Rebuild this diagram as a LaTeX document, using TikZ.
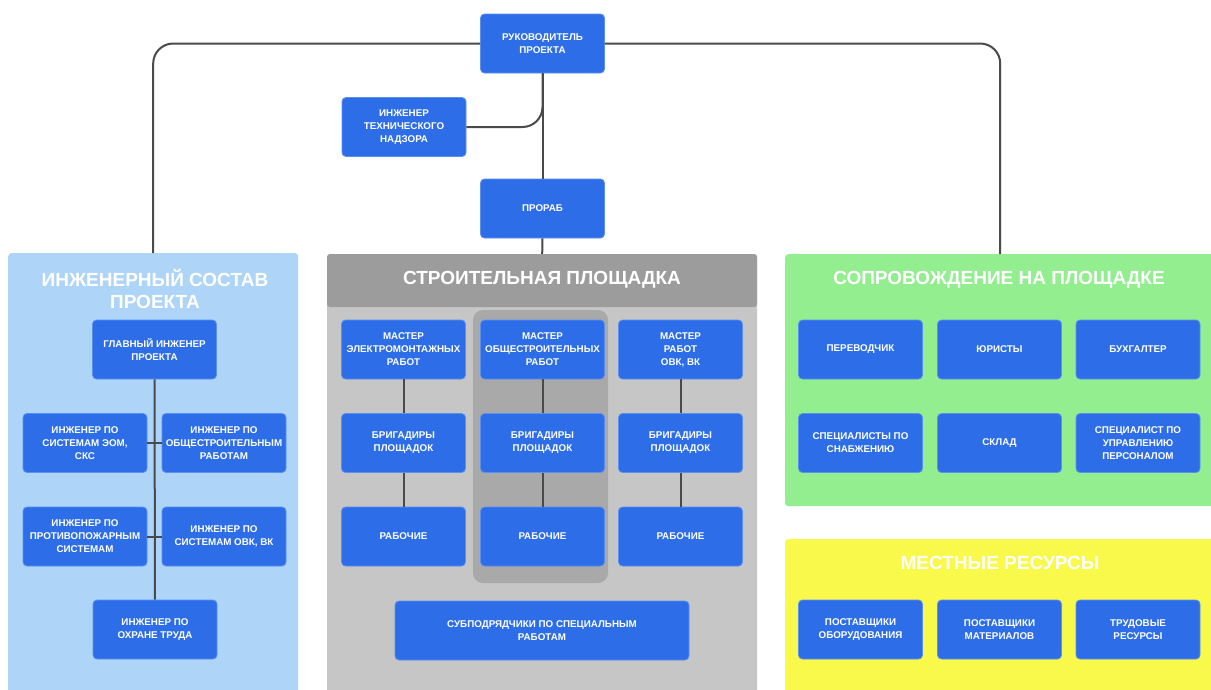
\documentclass[tikz,border=0pt]{standalone}
\usepackage{fontspec}
\setmainfont{Liberation Sans}
\usepackage{tikz}
\usepackage{xcolor}
\definecolor{boxblue}{HTML}{2D6EE8}
\definecolor{boxedge}{HTML}{5B8FF0}
\definecolor{panelblue}{HTML}{AED5F8}
\definecolor{panelgray}{HTML}{C6C6C6}
\definecolor{headgray}{HTML}{9C9C9C}
\definecolor{colgray}{HTML}{A9A9A9}
\definecolor{panelgreen}{HTML}{93EE8F}
\definecolor{panelyellow}{HTML}{F9F94C}
\definecolor{linegray}{HTML}{4A4A4A}
\tikzset{
    org-box/.style = {draw=boxedge, fill=boxblue, line width=0.8pt, rectangle, rounded corners=4pt, minimum width=124pt, minimum height=59pt, inner sep=1pt, align=center, text=white, font=\fontsize{9.8}{13}\selectfont\bfseries},
    wide-box/.style = {org-box, minimum width=294pt},
    panel/.style = {rectangle, rounded corners=3pt, anchor=north west, inner sep=0pt},
    panel-title/.style = {text=white, align=center, font=\fontsize{19}{21.5}\selectfont\bfseries},
    link/.style = {draw=linegray, line width=2pt},
}

\begin{document}
\begin{tikzpicture}[x=1pt,y=-1pt]
\useasboundingbox (0,0) rectangle (1211,689);
% panels
\node[panel, fill=panelblue, minimum width=290pt, minimum height=440pt] (eng-panel) at (8,253) {};
\node[panel, fill=panelgray, minimum width=430pt, minimum height=440pt] (site-panel) at (327,254) {};
\fill[headgray, rounded corners=3pt] (327,254) rectangle (757,307);
\fill[colgray, rounded corners=10pt] (473,310) rectangle (608,583);
\node[panel, fill=panelgreen, minimum width=430pt, minimum height=252pt] (help-panel) at (785,254) {};
\node[panel, fill=panelyellow, minimum width=430pt, minimum height=160pt] (local-panel) at (785,539) {};

\node[panel-title] (eng-title) at (155,289) {ИНЖЕНЕРНЫЙ СОСТАВ\\ПРОЕКТА};
\node[panel-title] (site-title) at (542,280) {СТРОИТЕЛЬНАЯ ПЛОЩАДКА};
\node[panel-title] (help-title) at (999,280) {СОПРОВОЖДЕНИЕ НА ПЛОЩАДКЕ};
\node[panel-title] (local-title) at (1000,563) {МЕСТНЫЕ РЕСУРСЫ};

% top of the tree
\node[org-box] (head) at (542.5,43.5) {РУКОВОДИТЕЛЬ\\ПРОЕКТА};
\node[org-box] (tech) at (404,127) {ИНЖЕНЕР\\ТЕХНИЧЕСКОГО\\НАДЗОРА};
\node[org-box] (foreman) at (542.5,208.5) {ПРОРАБ};

% engineering staff
\node[org-box] (chief) at (154.5,349.5) {ГЛАВНЫЙ ИНЖЕНЕР\\ПРОЕКТА};
\node[org-box] (eom) at (85,443) {ИНЖЕНЕР ПО\\СИСТЕМАМ ЭОМ,\\СКС};
\node[org-box] (gen) at (224,443) {ИНЖЕНЕР ПО\\ОБЩЕСТРОИТЕЛЬНЫМ\\РАБОТАМ};
\node[org-box] (fire) at (85,536.5) {ИНЖЕНЕР ПО\\ПРОТИВОПОЖАРНЫМ\\СИСТЕМАМ};
\node[org-box] (ovk) at (224,536.5) {ИНЖЕНЕР ПО\\СИСТЕМАМ ОВК, ВК};
\node[org-box] (safety) at (155,629.5) {ИНЖЕНЕР ПО\\ОХРАНЕ ТРУДА};

% construction site
\node[org-box] (m1) at (403.5,349.5) {МАСТЕР\\ЭЛЕКТРОМОНТАЖНЫХ\\РАБОТ};
\node[org-box] (m2) at (542.5,349.5) {МАСТЕР\\ОБЩЕСТРОИТЕЛЬНЫХ\\РАБОТ};
\node[org-box] (m3) at (680.5,349.5) {МАСТЕР\\РАБОТ\\ОВК, ВК};
\foreach \i/\x in {1/403.5,2/542.5,3/680.5} {
    \node[org-box] (b\i) at (\x,443) {БРИГАДИРЫ\\ПЛОЩАДОК};
    \node[org-box] (w\i) at (\x,536.5) {РАБОЧИЕ};
}
\node[wide-box] (sub) at (542,630.5) {СУБПОДРЯДЧИКИ ПО СПЕЦИАЛЬНЫМ\\РАБОТАМ};

% support on site
\node[org-box] (transl) at (860.5,349.5) {ПЕРЕВОДЧИК};
\node[org-box] (lawyer) at (999.5,349.5) {ЮРИСТЫ};
\node[org-box] (account) at (1138,349.5) {БУХГАЛТЕР};
\node[org-box] (supply) at (860.5,443) {СПЕЦИАЛИСТЫ ПО\\СНАБЖЕНИЮ};
\node[org-box] (store) at (999.5,443) {СКЛАД};
\node[org-box] (hr) at (1138,443) {СПЕЦИАЛИСТ ПО\\УПРАВЛЕНИЮ\\ПЕРСОНАЛОМ};

% local resources
\node[org-box] (equip) at (860.5,629.5) {ПОСТАВЩИКИ\\ОБОРУДОВАНИЯ};
\node[org-box] (mat) at (999.5,629.5) {ПОСТАВЩИКИ\\МАТЕРИАЛОВ};
\node[org-box] (labour) at (1138,629.5) {ТРУДОВЫЕ\\РЕСУРСЫ};

% connectors
\draw[link, rounded corners=20pt] (head.west) -| (eng-panel.north);
\draw[link, rounded corners=20pt] (head.east) -| (help-panel.north);
\draw[link, rounded corners=20pt] (tech.east) -| (head.south);
\draw[link] (head.south) -- (foreman.north);
\draw[link] (foreman.south) -- (site-panel.north);
\draw[link] (chief.south) -- (safety.north);
\draw[link] (eom.east) -- (gen.west);
\draw[link] (fire.east) -- (ovk.west);
\foreach \i in {1,2,3} {
    \draw[link] (m\i.south) -- (b\i.north);
    \draw[link] (b\i.south) -- (w\i.north);
}
\end{tikzpicture}
\end{document}
